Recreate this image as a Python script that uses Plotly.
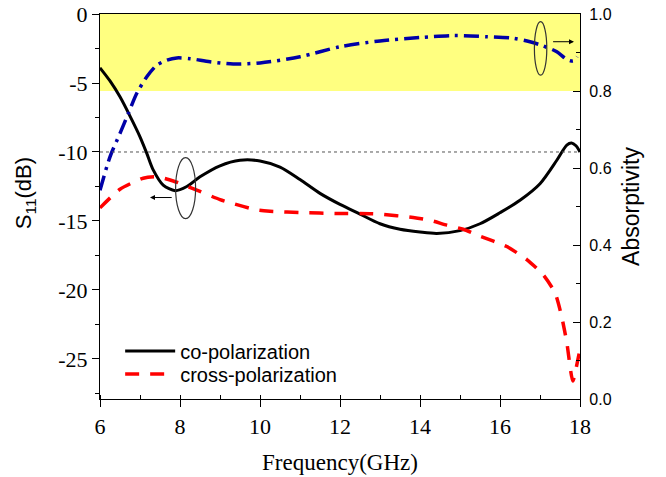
import plotly.graph_objects as go

# Co-polarization reflection S11 (dB)
freq_co = [6.0, 6.25, 6.5, 6.75, 7.0, 7.17, 7.33, 7.58, 7.88, 8.17, 8.5, 9.0, 9.5,
           10.0, 10.5, 11.0, 11.5, 12.0, 12.5, 13.0, 13.5, 14.0, 14.42, 15.0, 15.5,
           16.0, 16.5, 17.0, 17.42, 17.67, 17.79, 17.9, 18.0]
s11_co = [-3.9, -4.85, -6.0, -7.4, -8.9, -10.1, -11.3, -12.4, -12.8, -12.5, -11.8, -11.0, -10.6,
          -10.65, -11.1, -12.0, -13.0, -13.8, -14.5, -15.2, -15.6, -15.8, -15.9, -15.7, -15.2,
          -14.4, -13.5, -12.3, -10.6, -9.5, -9.35, -9.55, -10.0]

# Cross-polarization reflection (dB)
freq_cx = [6.0, 6.5, 7.08, 7.42, 7.83, 8.5, 9.0, 9.92, 10.25, 11.08, 11.9, 12.75, 13.0,
           13.83, 14.25, 14.67, 15.08, 15.5, 16.17, 16.67, 17.08, 17.375, 17.54, 17.67,
           17.82, 17.95, 18.0]
s11_cx = [-14.05, -12.7, -11.9, -11.8, -12.1, -12.85, -13.45, -14.2, -14.3, -14.4, -14.45, -14.47, -14.5,
          -14.75, -14.95, -15.3, -15.6, -16.1, -16.85, -17.8, -18.9, -20.2, -21.9, -23.8,
          -26.6, -25.0, -24.3]

# Absorptivity (right axis)
freq_ab = [6.0, 6.25, 6.5, 6.71, 6.92, 7.17, 7.42, 7.67, 7.92, 8.25, 8.75, 9.33, 10.0,
           11.0, 12.0, 13.0, 14.0, 14.83, 15.67, 16.33, 16.75, 17.08, 17.42, 17.67, 17.83, 17.93]
absorb = [0.542, 0.629, 0.69, 0.742, 0.794, 0.837, 0.867, 0.88, 0.886, 0.884, 0.876, 0.870, 0.873,
          0.889, 0.915, 0.930, 0.939, 0.944, 0.941, 0.937, 0.928, 0.917, 0.902, 0.882, 0.878, 0.889]

x_ticks = [6, 8, 10, 12, 14, 16, 18]
y_ticks = [0, -5, -10, -15, -20, -25]
y_tick_text = ["0", "-5", "-10", "-15", "-20", "-25"]
y2_ticks = [0.0, 0.2, 0.4, 0.6, 0.8, 1.0]

SERIF = "Times New Roman, Liberation Serif, serif"
SANS = "Arial, Liberation Sans, sans-serif"

fig = go.Figure()

fig.add_trace(go.Scatter(
    x=freq_co, y=s11_co, name="co-polarization", mode="lines", legend="legend",
    line=dict(color="black", width=3, shape="spline", smoothing=0.8),
))
fig.add_trace(go.Scatter(
    x=freq_cx, y=s11_cx, name="cross-polarization", mode="lines", legend="legend2",
    line=dict(color="#FF0000", width=3.5, dash="14px,11px", shape="spline", smoothing=0.6),
))
fig.add_trace(go.Scatter(
    x=freq_ab, y=absorb, name="Absorptivity", mode="lines", yaxis="y2", showlegend=False,
    line=dict(color="#0000A8", width=3.5, dash="15px,6px,3px,6px", shape="spline", smoothing=0.8),
))

shapes = [
    # high-absorption band
    dict(type="rect", xref="paper", x0=0, x1=1, yref="y2", y0=0.8, y1=1.0,
         fillcolor="#FFFF80", line=dict(width=0), layer="below"),
    # -10 dB reference
    dict(type="line", xref="paper", x0=0, x1=1, yref="y", y0=-10, y1=-10,
         line=dict(color="#555555", width=1, dash="dot")),
    # axis markers
    dict(type="circle", xref="x", yref="y", x0=7.89, x1=8.39, y0=-14.83, y1=-10.41,
         line=dict(color="#333333", width=1.2)),
    dict(type="circle", xref="x", yref="y2", x0=16.86, x1=17.17, y0=0.841, y1=0.98,
         line=dict(color="#333333", width=1.2)),
]

annotations = [
    dict(x=7.25, y=-13.3, xref="x", yref="y", ax=7.83, ay=-13.3, axref="x", ayref="y",
         text="", showarrow=True, arrowhead=2, arrowsize=1, arrowwidth=1, arrowcolor="black"),
    dict(x=17.85, y=0.928, xref="x", yref="y2", ax=17.29, ay=0.928, axref="x", ayref="y2",
         text="", showarrow=True, arrowhead=2, arrowsize=1, arrowwidth=1, arrowcolor="black"),
    # left axis title
    dict(text="S<sub>11</sub>(dB)", xref="paper", yref="paper", x=-0.156, y=0.535,
         xanchor="center", yanchor="middle", textangle=-90, showarrow=False,
         font=dict(family=SANS, size=22, color="black")),
]

legend_style = dict(xanchor="left", yanchor="middle", itemwidth=50,
                    font=dict(family=SANS, size=20, color="black"),
                    bgcolor="rgba(0,0,0,0)")

fig.update_layout(
    width=666, height=477,
    margin=dict(l=100, r=86, t=14, b=78, autoexpand=False),
    paper_bgcolor="white", plot_bgcolor="white",
    showlegend=True,
    legend=dict(x=0.042, y=(399 - 351) / 385, **legend_style),
    legend2=dict(x=0.042, y=(399 - 374) / 385, **legend_style),
    shapes=shapes, annotations=annotations,
    xaxis=dict(
        range=[6, 18], tickvals=x_ticks, showgrid=False, zeroline=False, automargin=False,
        showline=True, linecolor="black", linewidth=1.2, mirror=True,
        ticks="outside", ticklen=7, tickcolor="black",
        minor=dict(dtick=1, ticks="inside", ticklen=4, tickcolor="black"),
        tickfont=dict(family=SERIF, size=22, color="black"),
        title=dict(text="Frequency(GHz)", font=dict(family=SERIF, size=23, color="black"), standoff=16),
    ),
    # top frame ticks
    xaxis2=dict(
        range=[6, 18], overlaying="x", side="top", anchor="y", dtick=1,
        showticklabels=False, showgrid=False, zeroline=False, showline=False,
        ticks="outside", ticklen=3, tickcolor="black", automargin=False,
    ),
    yaxis=dict(
        range=[-27.9, 0], tickvals=y_ticks, ticktext=y_tick_text,
        showgrid=False, zeroline=False, automargin=False,
        showline=True, linecolor="black", linewidth=1.2,
        ticks="outside", ticklen=7, tickcolor="black",
        minor=dict(dtick=2.5, ticks="outside", ticklen=4, tickcolor="black"),
        tickfont=dict(family=SERIF, size=22, color="black"),
    ),
    yaxis2=dict(
        range=[0, 1], tickvals=y2_ticks, tickformat=".1f", overlaying="y", side="right", anchor="x",
        showgrid=False, zeroline=False, automargin=False,
        showline=True, linecolor="black", linewidth=1.2,
        ticks="inside", ticklen=7, tickcolor="black", ticklabelstandoff=5,
        minor=dict(dtick=0.1, ticks="inside", ticklen=4, tickcolor="black"),
        tickfont=dict(family=SANS, size=16, color="black"),
        title=dict(text="Absorptivity", font=dict(family=SANS, size=23, color="black"), standoff=12),
    ),
)

fig.write_html("out.html")
